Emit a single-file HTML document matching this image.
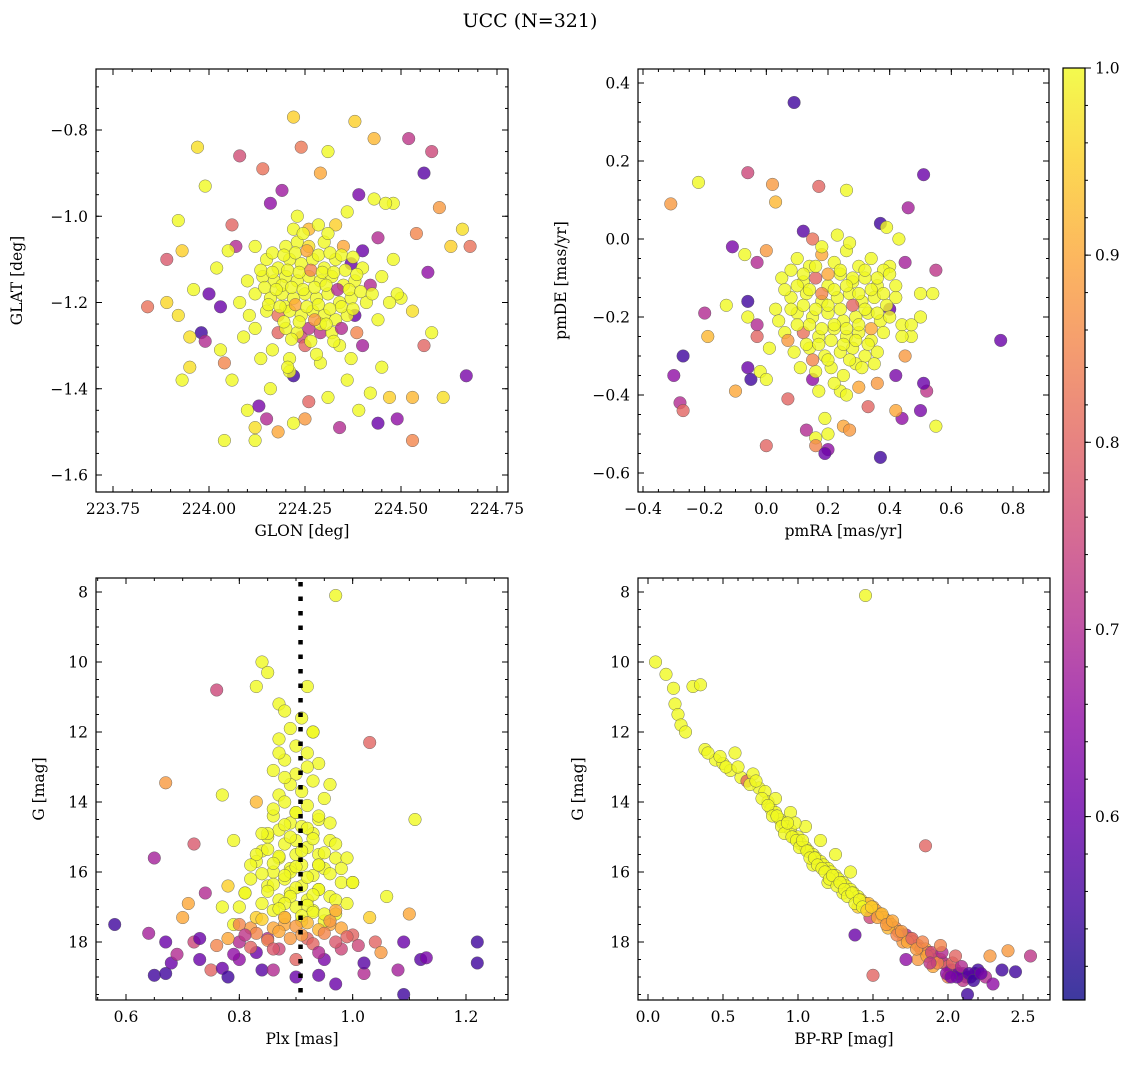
<!DOCTYPE html>
<html><head><meta charset="utf-8">
<style>
html,body{margin:0;padding:0;background:#fff;}
svg{display:block;font-family:"DejaVu Serif","Liberation Serif",serif;}
</style></head>
<body>
<svg id="fig" width="1136" height="1068" viewBox="0 0 1136 1068" xmlns="http://www.w3.org/2000/svg">
<text x="530" y="27" font-size="19" text-anchor="middle">UCC (N=321)</text>
<defs>
<linearGradient id="cbgrad" x1="0" y1="1" x2="0" y2="0">
<stop offset="0" stop-color="#0d0887"/><stop offset="0.1" stop-color="#41049d"/><stop offset="0.2" stop-color="#6a00a8"/><stop offset="0.3" stop-color="#8f0da4"/><stop offset="0.4" stop-color="#b12a90"/><stop offset="0.5" stop-color="#cc4778"/><stop offset="0.6" stop-color="#e16462"/><stop offset="0.7" stop-color="#f2844b"/><stop offset="0.8" stop-color="#fca636"/><stop offset="0.9" stop-color="#fcce25"/><stop offset="1" stop-color="#f0f921"/>
</linearGradient>
</defs>
</svg>
<script>
// ---- Panel 1: GLON / GLAT ----
const glon=[224.22,224.38,224.43,224.52,224.58,223.97,224.08,224.14,224.31,224.24,
224.29,223.99,224.19,224.39,224.48,224.56,224.60,223.92,224.06,224.16,
224.33,224.43,224.54,224.66,224.63,224.68,223.93,224.07,223.89,224.02,
223.84,223.89,223.92,223.96,224.00,224.03,223.98,223.95,223.99,224.03,
223.93,223.95,224.06,224.04,224.10,224.13,224.12,224.12,224.04,224.15,
224.18,224.22,224.25,224.26,224.31,224.36,224.39,224.42,224.47,224.53,
224.53,224.49,224.44,224.34,224.61,224.67,224.56,224.58,224.57,224.50,
224.49,224.53,224.48,224.44,224.38,224.40,224.45,224.22,224.21,224.29,
224.18,224.12,224.09,224.16,224.21,224.37,224.34,224.29,224.46,224.36,
224.26,224.23,224.20,224.24,
224.20,224.23,224.26,224.30,224.35,224.15,224.18,224.21,224.24,224.27,
224.30,224.33,224.37,224.40,224.14,224.17,224.20,224.23,224.26,224.29,
224.32,224.35,224.38,224.42,224.12,224.16,224.19,224.22,224.25,224.28,
224.31,224.34,224.37,224.41,224.15,224.18,224.21,224.24,224.27,224.30,
224.33,224.36,224.20,224.23,224.26,224.29,224.32,224.10,224.08,224.45,
224.44,224.25,224.28,224.22,224.31,224.05,224.12,224.40,224.47,224.19,
224.165,224.195,224.225,224.255,224.285,224.315,224.345,224.375,224.135,224.165,
224.205,224.235,224.265,224.295,224.325,224.355,224.385,224.145,224.175,224.215,
224.245,224.275,224.305,224.335,224.365,224.395,224.155,224.185,224.225,224.255,
224.285,224.315,224.345,224.375,224.195,224.235,224.275,224.305,224.215,224.265,
224.165,224.105,224.425,224.345,224.245,224.285,224.135,224.385,224.205,224.325];
const glat=[-0.77,-0.78,-0.82,-0.82,-0.85,-0.84,-0.86,-0.89,-0.85,-0.84,
-0.90,-0.93,-0.94,-0.95,-0.97,-0.90,-0.98,-1.01,-1.02,-0.97,
-1.02,-0.96,-1.04,-1.03,-1.07,-1.07,-1.08,-1.07,-1.10,-1.12,
-1.21,-1.20,-1.23,-1.17,-1.18,-1.21,-1.27,-1.28,-1.29,-1.31,
-1.38,-1.35,-1.38,-1.34,-1.45,-1.44,-1.49,-1.52,-1.52,-1.47,
-1.50,-1.48,-1.47,-1.43,-1.42,-1.38,-1.45,-1.41,-1.42,-1.42,
-1.52,-1.47,-1.48,-1.49,-1.42,-1.37,-1.30,-1.27,-1.13,-1.19,
-1.18,-1.22,-1.10,-1.05,-1.23,-1.30,-1.35,-1.37,-1.33,-1.27,
-1.27,-1.26,-1.28,-1.40,-1.36,-1.33,-1.30,-1.34,-0.97,-0.99,
-1.03,-1.00,-1.21,-1.28,
-1.07,-1.06,-1.07,-1.06,-1.07,-1.10,-1.12,-1.10,-1.11,-1.10,
-1.12,-1.10,-1.11,-1.12,-1.14,-1.15,-1.14,-1.15,-1.14,-1.15,
-1.14,-1.16,-1.15,-1.16,-1.18,-1.19,-1.18,-1.19,-1.18,-1.19,
-1.18,-1.20,-1.19,-1.20,-1.22,-1.23,-1.22,-1.23,-1.22,-1.23,
-1.24,-1.23,-1.26,-1.27,-1.26,-1.25,-1.27,-1.15,-1.20,-1.14,
-1.24,-1.30,-1.32,-1.03,-1.04,-1.08,-1.07,-1.08,-1.20,-1.16,
-1.085,-1.09,-1.085,-1.08,-1.09,-1.085,-1.09,-1.095,-1.125,-1.13,
-1.125,-1.13,-1.125,-1.13,-1.13,-1.125,-1.135,-1.165,-1.17,-1.165,
-1.17,-1.165,-1.16,-1.17,-1.17,-1.175,-1.205,-1.21,-1.205,-1.21,
-1.205,-1.215,-1.21,-1.215,-1.245,-1.245,-1.24,-1.25,-1.285,-1.29,
-1.31,-1.23,-1.18,-1.26,-1.04,-1.02,-1.33,-1.27,-1.35,-1.29];
const prob1=[.95,.95,.92,.72,.75,.97,.76,.82,1,.83,
.90,1,.67,.62,1,.58,.88,1,.80,.65,
.95,1,.85,.97,.95,.82,.95,.70,.78,1,
.82,.96,.97,1,.60,.60,.55,.97,.70,1,
1,.97,1,.85,1,.62,.97,1,1,.70,
.90,1,.88,.80,1,1,1,1,.95,.92,
.85,.65,.60,.70,.97,.62,.80,1,.65,1,
1,.97,1,.70,.60,.68,1,.55,1,.72,
.80,1,1,1,1,1,1,1,1,1,
.92,1,1,.75,
1,1,.97,1,.9,1,1,1,1,1,
1,1,.6,1,1,1,1,1,1,1,
1,1,1,.7,1,1,1,1,1,1,
1,1,1,1,1,.82,1,1,1,1,
1,1,1,1,.72,1,1,1,1,1,
1,.8,1,1,1,1,1,.6,1,1,
1,1,1,.9,1,1,1,1,1,1,
1,1,.85,1,1,1,1,1,1,1,
1,1,1,.7,1,1,1,1,.9,1,
1,1,1,1,1,1,.88,1,1,1,
1,1,1,.7,1,1,1,.85,1,1];

// ---- Panel 2: pmRA / pmDE ----
const pmra=[0.09,0.51,-0.31,-0.22,-0.06,0.02,0.17,0.26,0.03,0.46,
0.37,0.39,0.43,0.12,0.15,-0.11,-0.03,-0.07,0.00,0.55,
0.50,0.54,0.45,0.40,-0.20,-0.19,-0.13,-0.06,-0.06,-0.03,
-0.03,-0.06,-0.05,-0.02,0.00,-0.27,-0.30,-0.28,-0.27,-0.10,
0.07,0.00,0.13,0.16,0.16,0.20,0.20,0.19,0.19,0.25,
0.27,0.37,0.44,0.50,0.55,0.52,0.51,0.42,0.45,0.42,
0.33,0.36,0.30,0.24,0.15,0.17,0.76,0.50,0.40,0.47,
0.10,0.14,0.18,0.22,0.26,0.30,0.34,0.38,0.12,0.16,
0.20,0.24,0.28,0.32,0.36,0.08,0.13,0.18,0.23,0.27,
0.31,0.35,0.39,0.10,0.15,0.20,0.25,0.29,0.33,0.37,
0.06,0.12,0.17,0.22,0.26,0.30,0.34,0.09,0.14,0.19,
0.24,0.28,0.32,0.36,0.11,0.16,0.21,0.25,0.29,0.18,
0.23,0.27,0.05,0.42,0.44,0.03,0.07,0.22,0.31,0.26,
0.08,0.12,0.16,0.20,0.24,0.28,0.32,0.36,0.40,0.06,
0.10,0.14,0.18,0.22,0.26,0.30,0.34,0.38,0.42,0.08,
0.12,0.16,0.20,0.24,0.28,0.32,0.36,0.40,0.04,0.10,
0.14,0.18,0.22,0.26,0.30,0.34,0.38,0.13,0.17,0.21,
0.25,0.29,0.33,0.15,0.20,0.27,0.35,0.44,0.01,0.47];
const pmde=[0.35,0.165,0.09,0.145,0.17,0.14,0.135,0.125,0.095,0.08,
0.04,0.03,0.00,0.02,0.00,-0.02,-0.06,-0.04,-0.03,-0.08,
-0.14,-0.14,-0.06,-0.07,-0.19,-0.25,-0.17,-0.16,-0.20,-0.22,
-0.25,-0.33,-0.36,-0.34,-0.36,-0.30,-0.35,-0.42,-0.44,-0.39,
-0.41,-0.53,-0.49,-0.51,-0.53,-0.50,-0.54,-0.55,-0.46,-0.48,
-0.49,-0.56,-0.46,-0.44,-0.48,-0.39,-0.37,-0.35,-0.30,-0.44,
-0.43,-0.37,-0.38,-0.39,-0.36,-0.39,-0.26,-0.20,-0.18,-0.25,
-0.05,-0.07,-0.04,-0.06,-0.03,-0.07,-0.05,-0.08,-0.11,-0.10,
-0.12,-0.09,-0.11,-0.10,-0.12,-0.15,-0.14,-0.16,-0.15,-0.14,
-0.16,-0.15,-0.17,-0.19,-0.20,-0.19,-0.21,-0.20,-0.19,-0.21,
-0.24,-0.24,-0.25,-0.23,-0.25,-0.24,-0.26,-0.29,-0.28,-0.30,
-0.29,-0.28,-0.30,-0.29,-0.33,-0.34,-0.33,-0.35,-0.32,-0.02,
0.01,-0.01,-0.10,-0.12,-0.22,-0.18,-0.26,-0.37,-0.33,-0.40,
-0.08,-0.09,-0.07,-0.09,-0.08,-0.10,-0.08,-0.10,-0.09,-0.13,
-0.12,-0.13,-0.14,-0.13,-0.12,-0.14,-0.13,-0.14,-0.15,-0.18,
-0.17,-0.18,-0.17,-0.18,-0.17,-0.18,-0.19,-0.20,-0.21,-0.22,
-0.22,-0.23,-0.22,-0.23,-0.22,-0.23,-0.24,-0.27,-0.27,-0.26,
-0.27,-0.26,-0.27,-0.31,-0.31,-0.31,-0.32,-0.25,-0.28,-0.22];
const prob2=[.55,.6,.88,1,.75,.88,.8,1,.92,.68,
.55,1,1,.58,.82,.62,.7,1,.88,.72,
1,1,.68,1,.7,.92,1,.55,1,.7,
.8,.6,.55,1,1,.55,.65,.7,.8,.9,
.8,.8,.7,1,.85,1,.65,.6,1,.9,
.88,.55,.65,.62,1,.72,.6,.62,.88,.9,
.8,.88,.9,1,.65,1,.6,1,.6,1,
1,1,.9,1,1,1,1,1,1,.8,
1,1,1,1,1,1,1,1,1,1,
1,1,1,1,1,1,1,1,1,1,
1,.82,1,1,1,1,1,1,1,1,
1,1,1,1,1,1,1,1,1,1,
1,1,1,1,1,1,.88,1,1,1,
1,1,1,.9,1,1,1,1,1,1,
1,1,.85,1,1,1,1,1,1,1,
1,1,1,1,.8,1,1,1,1,1,
1,1,1,1,1,.9,1,1,1,1,
1,1,1,.85,1,1,1,1,1,1];

// ---- Panel 3: Plx / G ----
const plx=[0.97,0.76,0.84,0.85,0.83,0.92,0.87,1.03,0.67,0.77,
0.72,0.65,0.79,0.83,1.11,0.74,0.78,1.10,0.58,0.64,
0.67,0.70,0.71,0.65,0.67,0.68,0.69,0.72,0.73,0.75,
0.77,0.80,0.78,0.84,1.09,1.12,1.22,1.22,1.13,1.09,
1.08,0.97,0.94,0.90,1.02,1.02,0.95,1.04,1.05,1.00,
0.98,0.92,0.87,0.85,0.83,0.80,0.76,0.78,0.82,0.88,
0.96,1.03,0.90,0.86,0.73,
0.88,0.91,0.89,0.93,0.87,0.90,0.92,0.88,0.94,0.86,
0.90,0.93,0.89,0.91,0.87,0.95,0.88,0.92,0.90,0.86,
0.94,0.89,0.91,0.87,0.93,0.85,0.90,0.96,0.88,0.92,
0.84,0.90,0.94,0.87,0.97,0.83,0.91,0.89,0.95,0.86,
0.93,0.82,0.88,0.98,0.91,0.85,0.94,0.81,0.89,0.96,
0.87,0.92,0.84,0.99,0.90,0.80,0.93,0.86,0.97,0.88,
0.83,0.91,0.95,0.79,0.89,1.00,0.85,0.92,0.87,0.94,
0.86,0.90,0.94,0.88,0.92,0.96,0.84,0.89,0.93,0.97,
0.85,0.91,0.95,0.83,0.87,0.99,0.82,0.86,0.90,0.94,
0.98,0.84,0.88,0.92,0.96,1.00,0.86,0.90,0.94,0.81,
0.85,0.89,0.93,0.97,0.88,0.92,0.87,0.93,0.91,0.95,
0.84,0.88,0.92,0.96,0.80,0.86,0.90,0.94,0.98,0.83,
0.87,0.91,0.95,0.99,0.85,0.89,0.93,0.97,1.01,0.82,
0.86,0.94,0.79,0.81,0.97,0.88,0.93,1.06,0.77,0.96];
const gmag3=[8.1,10.8,10.0,10.3,10.7,10.7,11.2,12.3,13.45,13.8,
15.2,15.6,15.1,14.0,14.5,16.6,16.4,17.2,17.5,17.75,
18.0,17.3,16.9,18.95,18.9,18.6,18.35,18.0,18.5,18.8,
18.75,18.0,19.0,18.8,19.5,18.5,18.0,18.6,18.45,18.0,
18.8,19.2,18.95,19.0,18.9,18.6,18.5,18.0,18.3,17.8,
18.2,17.9,18.2,17.9,18.3,18.5,18.1,17.9,17.6,17.5,
17.5,17.3,18.5,18.8,17.9,
11.4,11.6,11.9,12.0,12.2,12.4,12.6,12.8,12.9,13.1,
13.2,13.4,13.5,13.7,13.8,13.9,14.0,14.1,14.3,14.4,
14.5,14.6,14.7,14.8,14.9,15.0,15.1,15.1,15.2,15.3,
15.4,15.5,15.5,15.6,15.6,15.7,15.8,15.9,15.9,16.0,
16.1,16.2,16.2,16.3,16.4,16.4,16.5,16.6,16.6,16.7,
16.8,16.8,16.9,16.9,17.0,17.0,17.1,17.1,17.2,17.3,
17.3,17.4,17.4,17.5,16.0,16.3,14.9,13.0,12.6,15.8,
14.2,14.3,14.4,14.65,14.75,14.6,14.9,15.0,15.05,15.2,
15.35,15.4,15.45,15.5,15.55,15.6,15.8,15.75,15.85,15.8,
15.9,16.05,16.1,16.15,16.05,16.3,16.35,16.45,16.5,16.6,
16.55,16.7,16.65,16.8,16.9,16.95,17.05,17.15,17.25,17.2,
17.35,17.3,17.45,17.4,17.5,17.6,17.55,17.65,17.6,17.75,
17.7,17.8,17.75,17.85,17.95,17.9,18.05,18.0,18.1,18.15,
18.2,18.3,18.35,17.8,17.1,13.3,12.0,16.7,17.0,13.5];
const prob3=[1,.75,1,1,1,1,1,.8,.88,1,
.78,.68,1,.92,1,.7,.95,.9,.55,.68,
.6,.9,.9,.55,.55,.6,.7,.75,.6,.8,
.6,.7,.55,.58,.55,.58,.55,.55,.62,.6,
.68,.6,.6,.6,.7,.58,.62,.8,.88,.8,
.75,.8,.75,.7,.6,.65,.85,.9,.88,.9,
.9,.95,.8,.7,.6,
1,1,1,1,1,1,1,1,1,1,
1,1,1,1,1,1,1,1,1,1,
1,1,1,1,1,1,1,1,1,1,
1,1,1,1,1,1,1,1,1,1,
1,1,1,1,1,1,1,1,1,1,
1,1,1,1,1,1,1,1,1,1,
.95,1,1,1,1,1,1,1,1,1,
1,1,1,1,1,1,1,1,1,1,
1,1,1,1,1,1,1,1,1,1,
1,1,1,1,1,1,1,1,1,1,
1,1,1,1,1,1,1,1,1,1,
.95,.9,.92,.88,.85,.9,.88,.92,.9,.85,
.9,.88,.85,.8,.85,.88,.8,.78,.75,.8,
.78,.7,.65,.72,.9,1,1,1,1,1];
const plxLine=0.908;

// ---- Panel 4: BP-RP / G ----
const bprp=[0.05,0.12,0.17,0.18,0.20,0.22,0.25,0.30,0.35,0.38,
0.45,0.50,0.55,0.58,0.62,0.66,0.70,0.74,0.78,0.80,
0.82,0.85,0.88,0.90,0.92,0.95,0.97,1.00,1.02,1.05,
1.07,1.10,1.12,1.15,1.17,1.20,1.22,1.25,1.27,1.30,
1.32,1.35,1.37,1.40,1.42,1.45,1.47,1.50,1.52,1.55,
1.57,1.60,1.62,1.65,1.67,1.70,1.72,1.75,1.77,1.80,
1.82,1.85,1.87,1.90,1.92,1.95,1.97,2.00,2.02,2.05,
2.07,2.10,2.12,2.15,2.18,2.20,2.25,2.30,0.95,1.05,
1.15,1.25,1.35,1.10,1.20,1.30,1.40,1.60,1.70,1.80,
1.90,2.00,2.10,0.85,0.98,1.45,1.38,1.85,1.50,2.13,
2.55,2.45,2.36,2.40,2.28,1.72,1.48,
0.40,0.48,0.52,0.60,0.68,0.72,0.76,0.80,0.83,0.86,
0.89,0.91,0.93,0.96,0.99,1.01,1.03,1.06,1.08,1.11,
1.13,1.16,1.18,1.21,1.23,1.26,1.28,1.31,1.33,1.36,
1.38,1.41,1.43,1.46,1.49,1.53,1.56,1.59,1.63,1.66,
1.69,1.73,1.76,1.79,1.83,1.86,1.89,1.93,1.96,1.99,
2.03,2.06,2.09,2.14,2.17,2.22,1.95,2.05,1.88,2.02];
const gmag4=[10.0,10.35,10.75,11.2,11.5,11.8,12.0,10.7,10.65,12.5,
12.8,12.9,13.1,12.6,13.3,13.4,13.2,13.6,13.7,14.0,
14.2,14.3,14.5,14.6,14.7,14.8,15.0,15.0,15.2,15.3,
15.4,15.5,15.6,15.7,15.8,15.9,16.0,16.1,16.2,16.3,
16.4,16.5,16.6,16.7,16.8,16.9,16.9,17.0,17.1,17.2,
17.3,17.4,17.5,17.6,17.7,17.8,17.8,17.9,18.0,18.1,
18.2,18.2,18.3,18.4,18.5,18.5,18.6,18.7,18.8,18.8,
18.9,18.9,19.0,19.0,18.9,18.8,19.0,19.2,14.3,14.7,
15.1,15.5,16.0,15.8,16.3,16.6,17.0,17.6,18.0,18.5,
18.7,19.0,19.1,13.9,14.6,8.1,17.8,15.25,18.95,19.5,
18.4,18.85,18.8,18.25,18.4,18.5,17.3,
12.6,12.7,13.0,13.0,13.5,13.4,13.9,14.1,14.4,14.4,
14.7,14.9,14.6,15.0,15.1,15.3,15.1,15.4,15.6,15.6,
15.8,15.9,16.0,16.2,16.1,16.4,16.3,16.5,16.7,16.6,
16.9,16.8,17.0,17.1,17.0,17.3,17.2,17.5,17.4,17.8,
17.7,18.0,17.9,18.2,18.0,18.4,18.3,18.6,18.3,18.9,
18.6,19.0,18.7,18.9,19.1,18.9,18.1,18.4,18.6,19.0];
const prob4=[1,1,1,1,1,1,1,1,1,1,
1,1,1,1,1,.8,1,1,1,1,
1,1,1,1,1,1,1,1,1,1,
1,1,1,1,1,1,1,1,1,1,
1,1,1,1,.95,.95,.92,.9,.9,.9,
.88,.9,.88,.85,.9,.88,.7,.88,.88,.85,
.8,.9,.85,.88,.75,.85,.7,.8,.65,.75,
.6,.62,.55,.6,.58,.55,.7,.65,1,1,
1,1,1,1,1,1,.95,.92,.88,.88,
.9,.85,.72,1,1,1,.6,.8,.8,.55,
.72,.55,.55,.88,.88,.65,.75,
1,1,1,1,1,1,1,1,1,1,
1,1,1,1,1,1,1,1,1,1,
1,1,1,1,1,1,1,1,1,1,
1,1,1,.95,.95,.9,.92,.88,.9,.85,
.88,.9,.8,.88,.85,.9,.75,.85,.7,.65,
.8,.6,.7,.58,.55,.6,.85,.8,.72,.62];

// colorbar
const cbTicks=[0.6,0.7,0.8,0.9,1.0];
const cbMin=0.502, cbMax=1.0;

const NS="http://www.w3.org/2000/svg";
const svg=document.getElementById('fig');
function mk(tag,attrs,parent){const e=document.createElementNS(NS,tag);for(const k in attrs)e.setAttribute(k,attrs[k]);(parent||svg).appendChild(e);return e;}
function lin(v0,p0,v1,p1){const f=v=>p0+(v-v0)*(p1-p0)/(v1-v0);f.inv=p=>v0+(p-p0)*(v1-v0)/(p1-p0);return f;}
const stops=[[0,[13,8,135]],[.1,[65,4,157]],[.2,[106,0,168]],[.3,[143,13,164]],[.4,[177,42,144]],[.5,[204,71,120]],[.6,[225,100,98]],[.7,[242,132,75]],[.8,[252,166,54]],[.9,[252,206,37]],[1,[240,249,33]]];
function plasma(t){t=Math.max(0,Math.min(1,t));for(let i=1;i<stops.length;i++){if(t<=stops[i][0]){const a=stops[i-1],b=stops[i],u=(t-a[0])/(b[0]-a[0]);return 'rgb('+a[1].map((c,j)=>Math.round(c+(b[1][j]-c)*u)).join(',')+')';}}return 'rgb(240,249,33)';}
function fmt(v,d){const s=Math.abs(v).toFixed(d);return (v<-1e-9?'\u2212':'')+s;}
function range(lo,hi,step){const out=[];const s=Math.ceil(lo/step-1e-6);for(let k=s;k*step<=hi+1e-9;k++)out.push(+(k*step).toFixed(6));return out;}

function panel(name,box,xs,ys,xMaj,xMin,xDec,yMaj,yMin,yDec,xl,yl,ylx,X,Y,P){
  const [L,T,R,B]=box;
  const g=mk('g',{});
  
  
  const cid='clip-'+name;
  const cp=mk('clipPath',{id:cid},g);mk('rect',{x:L,y:T,width:R-L,height:B-T},cp);
  const pts=mk('g',{'clip-path':'url(#'+cid+')'},g);
  
  
  for(let i=0;i<X.length;i++){
    const c=mk('circle',{cx:xs(X[i]).toFixed(1),cy:ys(Y[i]).toFixed(1),r:6.3,fill:plasma((P[i]-cbMin)/(cbMax-cbMin)),'fill-opacity':0.8,stroke:'#555','stroke-width':0.5,'stroke-opacity':0.8},pts);
    
    
  }
  const ax=mk('g',{stroke:'#000','stroke-width':1},g);
  
  
  const xlo=xs.inv(L),xhi=xs.inv(R),yhi=ys.inv(T),ylo=ys.inv(B);
  const xa=[Math.min(xlo,xhi),Math.max(xlo,xhi)],ya=[Math.min(ylo,yhi),Math.max(ylo,yhi)];
  range(xa[0],xa[1],xMin).forEach(v=>{const x=xs(v);mk('line',{x1:x,y1:B,x2:x,y2:B-3},ax);mk('line',{x1:x,y1:T,x2:x,y2:T+3},ax);});
  range(ya[0],ya[1],yMin).forEach(v=>{const y=ys(v);mk('line',{x1:L,y1:y,x2:L+3,y2:y},ax);mk('line',{x1:R,y1:y,x2:R-3,y2:y},ax);});
  range(xa[0],xa[1],xMaj).forEach(v=>{const x=xs(v);mk('line',{x1:x,y1:B,x2:x,y2:B-6},ax);mk('line',{x1:x,y1:T,x2:x,y2:T+6},ax);
    const t=mk('text',{x:x,y:B+22,'font-size':15.5,'text-anchor':'middle',stroke:'none',fill:'#000'},g);t.textContent=fmt(v,xDec);
    });
  range(ya[0],ya[1],yMaj).forEach(v=>{const y=ys(v);mk('line',{x1:L,y1:y,x2:L+6,y2:y},ax);mk('line',{x1:R,y1:y,x2:R-6,y2:y},ax);
    const t=mk('text',{x:L-8,y:y+5.5,'font-size':15.5,'text-anchor':'end',stroke:'none',fill:'#000'},g);t.textContent=fmt(v,yDec);
    });
  mk('rect',{x:L,y:T,width:R-L,height:B-T,fill:'none',stroke:'#000','stroke-width':1.2},ax);
  const tx=mk('text',{x:(L+R)/2,y:B+44,'font-size':15.5,'text-anchor':'middle'},g);tx.textContent=xl;
  
  const ty=mk('text',{x:ylx,y:(T+B)/2,'font-size':15.5,'text-anchor':'middle',transform:'rotate(-90 '+ylx+' '+((T+B)/2)+')'},g);ty.textContent=yl;
  
  return g;
}

const p1x=lin(223.75,113,224.75,497), p1y=lin(-0.8,130,-1.6,475);
panel('panel-position',[96,69,508,492],p1x,p1y,0.25,0.05,2,0.2,0.05,1,'GLON [deg]','GLAT [deg]',22,glon,glat,prob1);
const p2x=lin(-0.4,643,0.8,1013), p2y=lin(0.4,83,-0.6,473);
panel('panel-proper-motion',[638,69,1049,492],p2x,p2y,0.2,0.05,1,0.2,0.05,1,'pmRA [mas/yr]','pmDE [mas/yr]',566,pmra,pmde,prob2);
const p3x=lin(0.6,126,1.2,466), p3y=lin(8,592,18,942);
const g3=panel('panel-parallax',[96,578,508,1000],p3x,p3y,0.2,0.05,1,2,0.5,0,'Plx [mas]','G [mag]',44,plx,gmag3,prob3);
const dl=mk('line',{x1:p3x(plxLine),y1:582,x2:p3x(plxLine),y2:1000,stroke:'#000','stroke-width':4.5,'stroke-dasharray':'4.5 10'},g3);


const p4x=lin(0,648,2.5,1023), p4y=lin(8,592,18,942);
panel('panel-cmd',[638,578,1050,1000],p4x,p4y,0.5,0.1,1,2,0.5,0,'BP-RP [mag]','G [mag]',583,bprp,gmag4,prob4);

// colorbar
const cb=mk('g',{});


const cL=1063,cR=1085,cT=68,cB=1000;
mk('rect',{x:cL,y:cT,width:cR-cL,height:cB-cT,fill:'url(#cbgrad)','fill-opacity':0.8},cb);
const cs=lin(cbMin,cB,cbMax,cT);
range(cbMin,cbMax,0.02).forEach(v=>{const y=cs(v);mk('line',{x1:cR,y1:y,x2:cR+3,y2:y,stroke:'#000','stroke-width':1},cb);});
cbTicks.forEach(v=>{const y=cs(v);mk('line',{x1:cR,y1:y,x2:cR+6,y2:y,stroke:'#000','stroke-width':1},cb);
  const t=mk('text',{x:cR+10,y:y+5.5,'font-size':15.5},cb);t.textContent=v.toFixed(1);
  });
mk('rect',{x:cL,y:cT,width:cR-cL,height:cB-cT,fill:'none',stroke:'#000','stroke-width':1.2},cb);
</script>
</body></html>
